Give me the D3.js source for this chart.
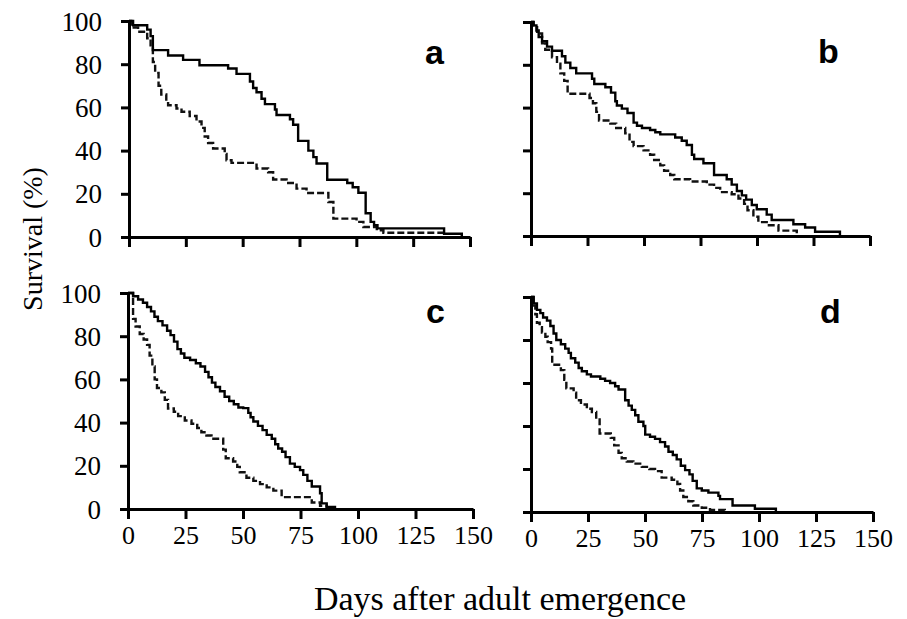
<!DOCTYPE html>
<html>
<head>
<meta charset="utf-8">
<script src="https://cdn.jsdelivr.net/npm/d3@7"></script>
<style>
  body { margin: 0; background: #fff; }
  svg { display: block; }
</style>
</head>
<body>
<div id="chart"></div>
<script>
// Survival curves, four panels (a-d); solid and dashed series per panel
const xTicks = [0, 25, 50, 75, 100, 125, 150];
const yTicks = [0, 20, 40, 60, 80, 100];
const panelNames = ["a", "b", "c", "d"];
const serif = "'Liberation Serif', 'Times New Roman', serif";

// [day, survival %] step points
const aSolid = [[0,100],[1.8,98],[8,96],[9.5,93],[10.5,86.5],[17.2,84],[23.8,82],[31,79.5],[43.6,78],[47.3,75.5],[53.2,72],[54.6,69],[56.1,67],[58.3,64],[59.8,61.5],[64.2,59],[64.9,56.5],[70.8,54.5],[72.2,52],[74.4,44.5],[78.9,40],[81.1,37],[82.5,34],[87.2,26.5],[96,25],[98.4,23],[100.9,20.5],[104.1,11],[106.3,7],[107.8,5.5],[109.3,4],[138.6,1.5],[146.4,0]];
const aDashed = [[0,100],[1,97],[4,95],[8,92],[9.5,88],[10.5,81],[11.5,76],[13,70],[14.2,66],[16.4,63],[17.2,61],[20.9,59.5],[23.1,58],[26.7,56],[29.7,53.5],[31.9,50.5],[33.3,46.5],[34.8,43.5],[37,41],[42.1,38.5],[42.9,35.5],[45.1,34.3],[56.1,31.7],[61.2,30],[63.4,26.6],[69.3,25],[73.7,22.4],[78.1,20.4],[87.7,16.2],[89.9,8.5],[100.1,7],[103.1,4.6],[109,3.1],[111.9,2],[138.3,0]];
const bSolid = [[0,100],[1.2,98.4],[2.4,96],[3.4,93],[4.9,91],[7.1,88.5],[9.3,86.6],[13.7,84],[15.2,81],[17.4,78.5],[20,76],[27,73.5],[28,71],[32.9,69.5],[35.4,67],[37.3,63],[38,61],[40.2,59.5],[42.7,57.5],[45.4,53],[46.9,51.5],[49.1,50.5],[52.7,49.5],[55,48.5],[57.2,47.5],[63.8,46],[66.7,44.5],[68.9,42.5],[71.2,38],[72.2,36],[76.3,34],[81,28.5],[86.6,26.5],[88.8,24],[91.1,21],[93.3,19],[95.2,17],[97.7,14.5],[99.9,12.5],[104.3,10],[106.5,7.5],[116.1,5.5],[121.3,4],[125.7,2],[136.7,0]];
const bDashed = [[0,100],[0.9,98.4],[2.7,94.6],[4.9,90],[6.3,87],[9.3,83.5],[11.5,80.5],[13,76],[14.7,72.5],[16.2,66.5],[25.9,64.5],[27.4,62],[28.9,58],[30.1,54],[35.1,52.5],[37.7,50.5],[41.7,48],[43.6,44],[45.4,42],[49.8,40],[52.7,38],[54.5,35.5],[57.2,33],[58.9,30.5],[61.6,28.5],[63.4,26.5],[70.4,25.5],[77.8,24],[81,22.5],[83.7,20.5],[88.8,19.5],[91.8,17.5],[94.3,15],[95.8,12],[98.4,9],[100.6,6.5],[104.3,5],[109.5,2.5],[117.6,0]];
const cSolid = [[0,100],[2.2,98.5],[4.4,97],[6.5,95.5],[8.3,93.5],[10,91.5],[11.5,89],[13,87],[15,85],[17,82.5],[18.5,80.5],[20,77.5],[21.5,74],[23,72],[24.5,70],[27,69],[29.5,67.5],[31.5,66],[33.5,63.5],[35,61],[36.5,58.5],[38,56.5],[40,54.5],[42,52],[44,50],[46,48.5],[48,47],[50.1,46.7],[52.3,44.5],[53.3,42.5],[54.5,40.5],[56.5,38.5],[58.5,36.5],[60.3,34.3],[62.5,32.5],[64,30],[65.3,28],[67,26.5],[68.5,24],[70.4,21],[72.5,19.5],[74.8,18],[76.2,15.8],[78,13],[79.9,10.4],[83.5,7.3],[84.2,2.6],[86.4,1],[90,0]];
const cDashed = [[0,100],[2.2,88],[3.3,84.5],[5.1,81],[6.8,78.5],[8.3,76],[9.4,71],[10.6,66],[11.6,60],[12.6,56],[14.5,54],[16,50.5],[17.4,46.5],[19.9,45],[21.8,43],[24.7,41],[27.6,39.5],[30.1,37.5],[31.9,35.5],[34.1,34],[36.3,32.5],[41.4,27.5],[42.5,23.5],[45.7,22],[47.5,19.5],[48.6,17],[51.5,14.5],[54.5,13],[57.4,11.5],[60.3,10],[63.2,8.5],[66.8,5.5],[79.9,3],[83.5,1.5],[86.4,0]];
const dSolid = [[0,100],[1.2,97],[2.6,94],[4.1,92.5],[5.3,90.5],[7,89],[8.5,86.5],[9.9,83],[11.1,80],[13.1,78],[15,76],[16.5,74],[17.5,71.5],[19.4,69.5],[20.9,67],[22.3,65.5],[24.5,64],[26.3,63],[30.4,62],[32.5,61],[34.7,60],[36.9,58.5],[38.4,57],[41.3,52],[42.8,49.5],[44.2,47.5],[45.7,45],[47.1,42],[49.3,40],[50.1,36],[52.2,35],[54.4,34],[56.6,32.5],[58.8,30.5],[60.3,28],[62.2,26.5],[63.9,24.5],[65.7,21.5],[67.6,19.5],[69.5,17.5],[70.9,14.5],[72.7,11],[74.9,10],[77.8,9],[82.2,7.5],[82.9,6],[88.4,3],[98.2,1.5],[107.4,0]];
const dDashed = [[0,100],[0.9,96],[1.9,92],[2.6,88],[3.8,86],[4.8,83.5],[6.3,81.5],[7.3,79],[8.8,76],[9.3,68.5],[13.1,66],[14.6,61.5],[15.5,57.5],[18.7,55.5],[19.8,52],[21.9,50],[24.5,48],[26.7,46.5],[28.6,43],[30.1,36.5],[35,34.5],[36.5,31],[38.4,27.5],[39.8,25],[42,23.5],[44.9,22.5],[48.6,21],[51.9,20],[54.4,19],[57.3,16],[61.7,15],[64.2,13],[65.4,10],[66.8,7],[69,5],[71.2,3],[74.9,2],[78.5,1],[85,0]];

const solidSeries = [aSolid, bSolid, cSolid, dSolid];
const dashedSeries = [aDashed, bDashed, cDashed, dDashed];

// panel placement in pixels
const boxes = [
  { x0: 129, x1: 470, yTop: 21, yBot: 237, lx: 425, ly: 64, showX: false, showY: true },
  { x0: 531, x1: 870, yTop: 22, yBot: 236, lx: 818, ly: 63, showX: false, showY: false },
  { x0: 128, x1: 473, yTop: 293, yBot: 509, lx: 426, ly: 323, showX: true, showY: true },
  { x0: 531, x1: 873, yTop: 297, yBot: 512, lx: 820, ly: 323, showX: true, showY: false }
];

const svg = d3.select("#chart").append("svg")
  .attr("width", 907)
  .attr("height", 619);

boxes.forEach(function(b, i) {
  var x = d3.scaleLinear().domain([0, 150]).range([b.x0, b.x1]);
  var y = d3.scaleLinear().domain([0, 100]).range([b.yBot, b.yTop]);
  var g = svg.append("g");

  var line = d3.line()
    .x(d => x(d[0]))
    .y(d => y(d[1]))
    .curve(d3.curveStepAfter);

  g.append("path")
    .attr("d", line(dashedSeries[i]))
    .attr("fill", "none")
    .attr("stroke", "#111")
    .attr("stroke-width", 2.4)
    .attr("stroke-dasharray", "7,3");

  g.append("path")
    .attr("d", line(solidSeries[i]))
    .attr("fill", "none")
    .attr("stroke", "#000")
    .attr("stroke-width", 2.4);

  var xAxis = d3.axisBottom(x).tickValues(xTicks).tickSize(10).tickSizeOuter(0).tickPadding(7);
  if (!b.showX) xAxis.tickFormat("");
  var gx = g.append("g")
    .attr("transform", "translate(0," + b.yBot + ")")
    .call(xAxis);

  var yAxis = d3.axisLeft(y).tickValues(yTicks).tickSize(8).tickSizeOuter(0).tickPadding(19);
  if (!b.showY) yAxis.tickFormat("");
  var gy = g.append("g")
    .attr("transform", "translate(" + b.x0 + ",0)")
    .call(yAxis);

  [gx, gy].forEach(function(ax) {
    ax.attr("font-family", null).attr("font-size", null);
    ax.select(".domain").attr("stroke", "#000").attr("stroke-width", 3);
    ax.selectAll(".tick line").attr("stroke", "#000").attr("stroke-width", 3);
    ax.selectAll(".tick text").style("font-family", serif).attr("fill", "#000");
  });
  gx.selectAll(".tick text").style("font-size", "26px");
  gy.selectAll(".tick text").style("font-size", "27px").attr("dy", "0.34em");

  g.append("text")
    .attr("x", b.lx)
    .attr("y", b.ly)
    .style("font-family", "'Liberation Sans', Arial, sans-serif")
    .style("font-weight", "bold")
    .style("font-size", "34px")
    .text(panelNames[i]);
});

svg.append("text")
  .attr("x", 500)
  .attr("y", 610)
  .attr("text-anchor", "middle")
  .style("font-family", serif)
  .style("font-size", "34px")
  .text("Days after adult emergence");

svg.append("text")
  .attr("transform", "translate(42,239) rotate(-90)")
  .attr("text-anchor", "middle")
  .style("font-family", serif)
  .style("font-size", "28px")
  .text("Survival (%)");
</script>
</body>
</html>
